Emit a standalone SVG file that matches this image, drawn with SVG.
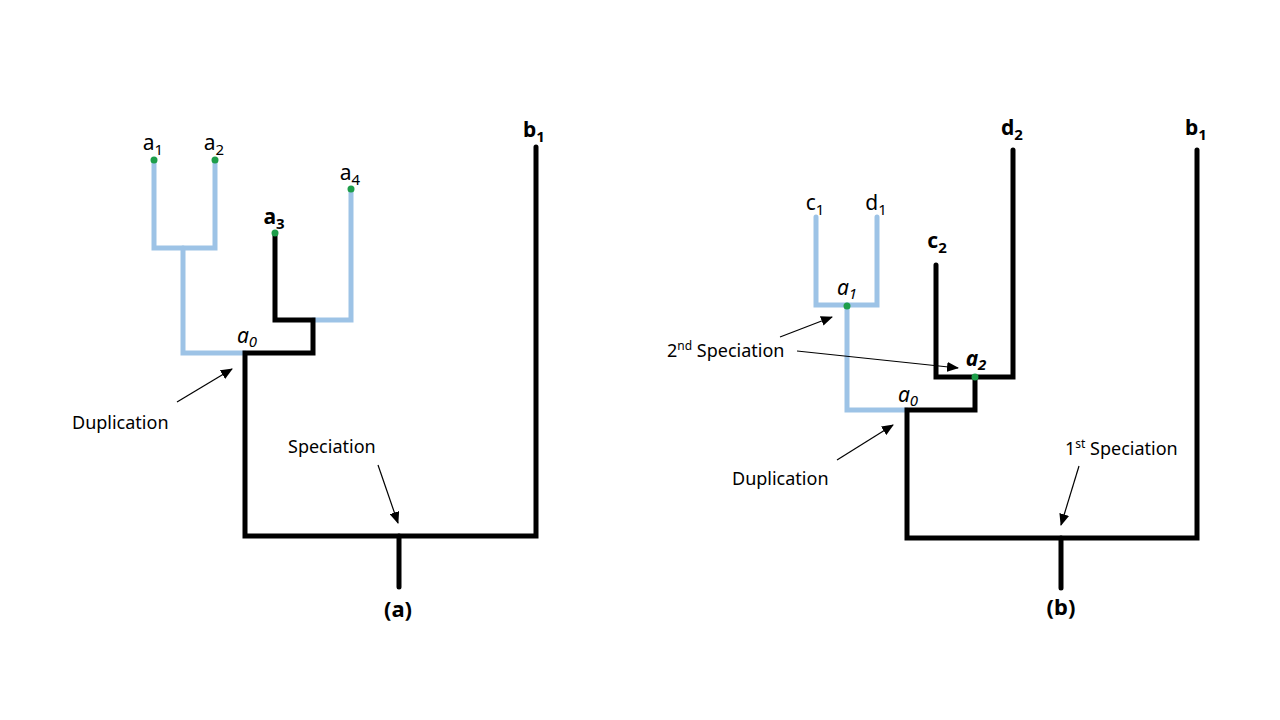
<svg xmlns="http://www.w3.org/2000/svg" width="1280" height="720" viewBox="0 0 1280 720">
<style>
text{font-family:"Noto Sans","Open Sans","Liberation Sans",sans-serif;fill:#000}
.lbl{font-size:21px;text-anchor:middle}
.cap{font-size:22px;text-anchor:middle;font-weight:bold}
.b{font-weight:bold}
.it{font-style:italic}
.note{font-size:18px}
.sub{font-size:15px}
.sup{font-size:12px}
.blk{fill:none;stroke:#000;stroke-width:5;stroke-linejoin:miter;stroke-linecap:round}
.blu{fill:none;stroke:#9DC3E6;stroke-width:5;stroke-linejoin:miter;stroke-linecap:round}
.arr{fill:none;stroke:#000;stroke-width:1.2;marker-end:url(#ah)}
.dot{fill:#1E9E4A}
</style>
<defs>
<marker id="ah" markerUnits="userSpaceOnUse" markerWidth="12" markerHeight="10" refX="11" refY="5" orient="auto">
<path d="M0,0 L12,5 L0,10 Z" fill="#000"/>
</marker>
</defs>
<rect width="1280" height="720" fill="#fff"/>
<g id="connectors">
<path class="blu" d="M154 160 V248 H215 V160"/>
<path class="blu" d="M183 248 V353 H245"/>
<path class="blu" d="M313 320 H351 V189"/>
<path class="blk" d="M275 233 V320 H313 V353 H245 V536 H536 V147"/>
<path class="blk" d="M399 536 V587"/>
<path class="blu" d="M816 217 V305 H877 V217"/>
<path class="blu" d="M847 305 V410 H907"/>
<path class="blk" d="M936 265 V377 H1013 V150"/>
<path class="blk" d="M975 377 V410 H907 V538 H1197 V150"/>
<path class="blk" d="M1061 538 V588"/>
<line class="arr" x1="177" y1="402" x2="232" y2="369"/>
<line class="arr" x1="378" y1="465" x2="398" y2="523"/>
<line class="arr" x1="837" y1="460" x2="893" y2="425"/>
<line class="arr" x1="1079" y1="466" x2="1061" y2="525"/>
<line class="arr" x1="780" y1="337" x2="832" y2="317"/>
<line class="arr" x1="797" y1="351" x2="958" y2="368"/>
</g>
<g id="node-a1"><circle class="dot" cx="154" cy="160" r="3.5"/><text class="lbl" x="153" y="150">a<tspan class="sub" dy="5">1</tspan></text></g>
<g id="node-a2"><circle class="dot" cx="215" cy="160" r="3.5"/><text class="lbl" x="214" y="150">a<tspan class="sub" dy="5">2</tspan></text></g>
<g id="node-a3"><circle class="dot" cx="275" cy="233" r="3.5"/><text class="lbl b" x="274" y="224">a<tspan class="sub" dy="5">3</tspan></text></g>
<g id="node-a4"><circle class="dot" cx="351" cy="189" r="3.5"/><text class="lbl" x="350" y="180">a<tspan class="sub" dy="5">4</tspan></text></g>
<g id="node-a0-a"><text class="lbl it" x="247" y="343">a<tspan class="sub" dy="4">0</tspan></text></g>
<g id="node-b1-a"><text class="lbl b" x="534" y="137">b<tspan class="sub" dy="5">1</tspan></text></g>
<g id="label-dup-a"><text class="note" x="72" y="429">Duplication</text></g>
<g id="label-spec-a"><text class="note" x="288" y="453">Speciation</text></g>
<g id="label-a"><text class="cap" x="398" y="617">(a)</text></g>
<g id="node-c1"><text class="lbl" x="815" y="210">c<tspan class="sub" dy="5">1</tspan></text></g>
<g id="node-d1"><text class="lbl" x="876" y="210">d<tspan class="sub" dy="5">1</tspan></text></g>
<g id="node-c2"><text class="lbl b" x="937" y="248">c<tspan class="sub" dy="5">2</tspan></text></g>
<g id="node-d2"><text class="lbl b" x="1012" y="135">d<tspan class="sub" dy="5">2</tspan></text></g>
<g id="node-b1-b"><text class="lbl b" x="1196" y="135">b<tspan class="sub" dy="5">1</tspan></text></g>
<g id="node-a1-b"><circle class="dot" cx="847" cy="306" r="3.5"/><text class="lbl it" x="847" y="295">a<tspan class="sub" dy="4">1</tspan></text></g>
<g id="node-a2-b"><circle class="dot" cx="975" cy="377" r="3.5"/><text class="lbl it b" x="976" y="366">a<tspan class="sub" dy="4">2</tspan></text></g>
<g id="node-a0-b"><text class="lbl it" x="908" y="402">a<tspan class="sub" dy="4">0</tspan></text></g>
<g id="label-dup-b"><text class="note" x="732" y="485">Duplication</text></g>
<g id="label-spec1"><text class="note" x="1065" y="455">1<tspan class="sup" dy="-7">st</tspan><tspan dy="7"> Speciation</tspan></text></g>
<g id="label-spec2"><text class="note" x="667" y="357">2<tspan class="sup" dy="-7">nd</tspan><tspan dy="7"> Speciation</tspan></text></g>
<g id="label-b"><text class="cap" x="1061" y="615">(b)</text></g>
</svg>
